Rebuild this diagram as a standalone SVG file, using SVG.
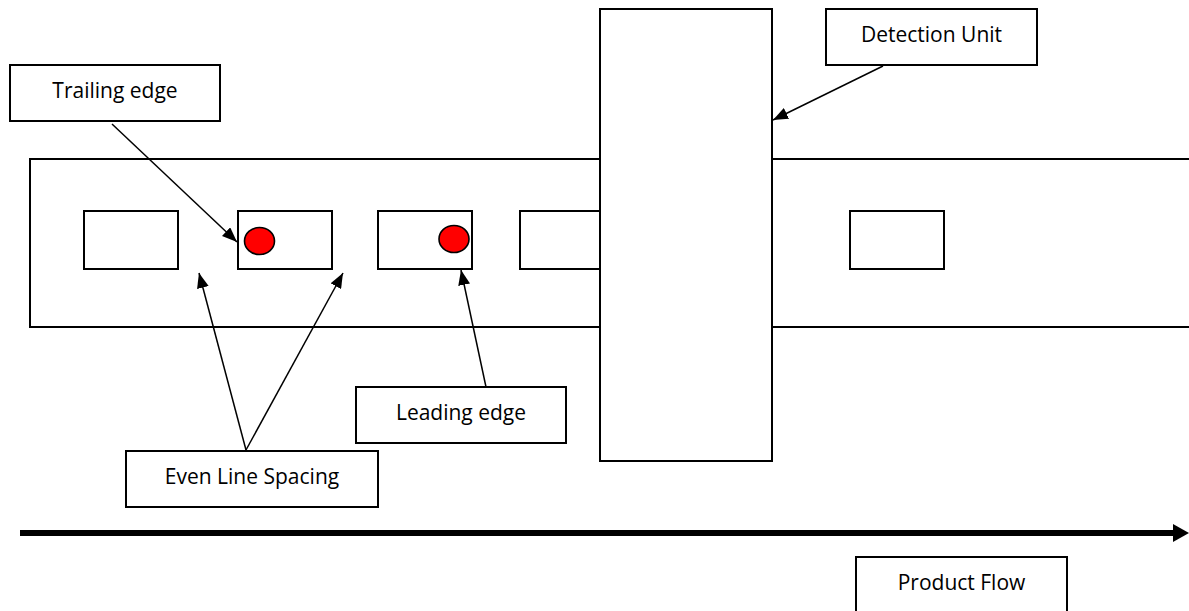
<svg xmlns="http://www.w3.org/2000/svg" width="1189" height="611" viewBox="0 0 1189 611">
  <defs>
    <style>
      .box { fill: #ffffff; stroke: #000000; stroke-width: 2; }
      .belt { fill: none; stroke: #000000; stroke-width: 2; }
      .dot { fill: #ff0000; stroke: #000000; stroke-width: 1.6; }
      .label { font-family: "Open Sans", "Liberation Sans", sans-serif; font-size: 21px; fill: #000000; text-anchor: middle; }
      .conn { fill: none; stroke: #000000; stroke-width: 1.5; marker-end: url(#arrow); }
      .flow { fill: none; stroke: #000000; stroke-width: 6; }
    </style>
    <marker id="arrow" markerUnits="userSpaceOnUse" markerWidth="16" markerHeight="12" refX="15" refY="6" orient="auto">
      <path d="M0,0 L15,6 L0,12 Z" fill="#000000"/>
    </marker>
  </defs>
  <rect width="1189" height="611" fill="#ffffff"/>

  <g id="conveyor">
    <path class="belt" d="M1189,159 H30 V327 H1189"/>
  </g>

  <g id="product-1"><rect class="box" x="84" y="211" width="94" height="58"/></g>
  <g id="product-2">
    <rect class="box" x="238" y="211" width="94" height="58"/>
    <ellipse class="dot" cx="259.5" cy="241" rx="15" ry="13.5"/>
  </g>
  <g id="product-3">
    <rect class="box" x="378" y="211" width="94" height="58"/>
    <ellipse class="dot" cx="454" cy="239" rx="15" ry="13.5"/>
  </g>
  <g id="product-4"><rect class="box" x="520" y="211" width="94" height="58"/></g>
  <g id="product-5"><rect class="box" x="850" y="211" width="94" height="58"/></g>

  <g id="detection-unit-block">
    <rect class="box" x="600" y="9" width="172" height="452"/>
  </g>

  <g id="label-trailing-edge">
    <rect class="box" x="10" y="65" width="210" height="56"/>
    <text class="label" x="115" y="98">Trailing edge</text>
  </g>
  <g id="label-detection-unit">
    <rect class="box" x="826" y="9" width="211" height="56"/>
    <text class="label" x="931.5" y="42">Detection Unit</text>
  </g>
  <g id="label-leading-edge">
    <rect class="box" x="356" y="387" width="210" height="56"/>
    <text class="label" x="461" y="420">Leading edge</text>
  </g>
  <g id="label-even-spacing">
    <rect class="box" x="126" y="451" width="252" height="56"/>
    <text class="label" x="252" y="484">Even Line Spacing</text>
  </g>
  <g id="label-product-flow">
    <rect class="box" x="856" y="557" width="211" height="60"/>
    <text class="label" x="961.5" y="590">Product Flow</text>
  </g>

  <g id="connectors">
    <line class="conn" x1="112" y1="124" x2="237" y2="242"/>
    <line class="conn" x1="883" y1="66" x2="773" y2="120"/>
    <line class="conn" x1="246" y1="450" x2="199" y2="273"/>
    <line class="conn" x1="246" y1="450" x2="343" y2="273"/>
    <line class="conn" x1="486" y1="387" x2="461" y2="270"/>
    <line class="flow" x1="20" y1="533" x2="1175" y2="533"/>
    <path d="M1173,524 L1189,533 L1173,542 Z" fill="#000000"/>
  </g>
</svg>
